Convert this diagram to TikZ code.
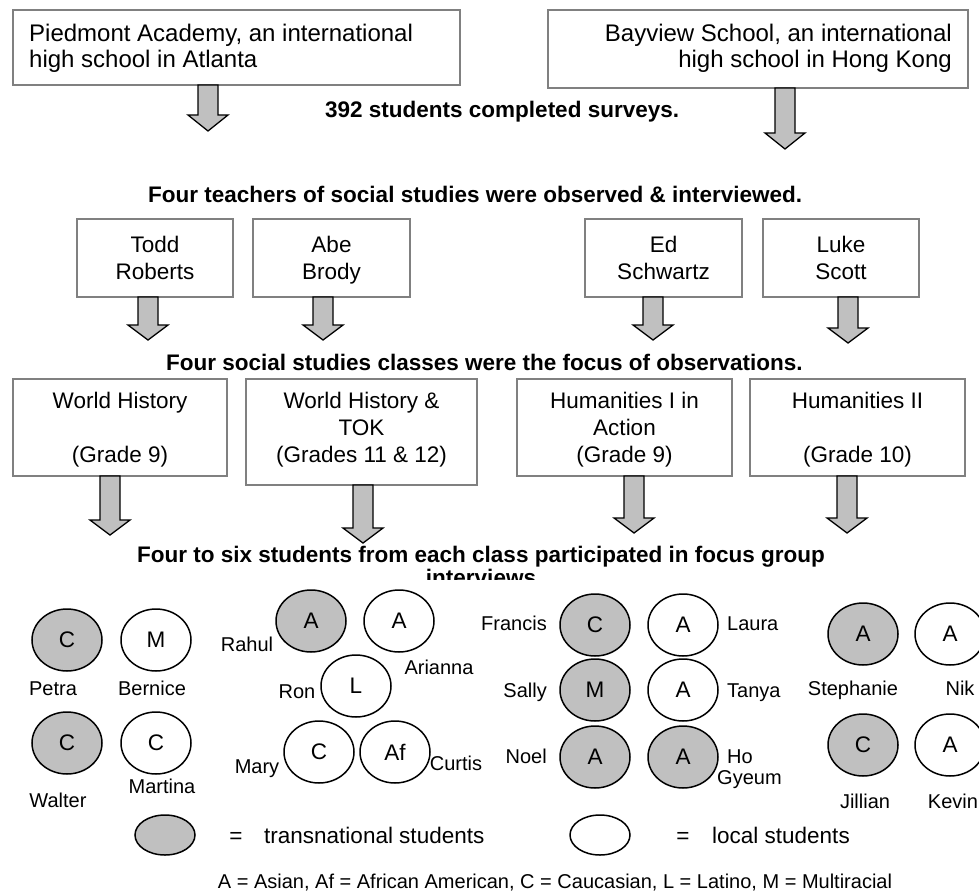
\documentclass[tikz,border=0pt]{standalone}
\usepackage{fontspec}
\setmainfont{Liberation Sans}
\definecolor{fillgray}{HTML}{C0C0C0}
\definecolor{boxgray}{HTML}{808080}
\newcommand{\topfont}{\fontsize{24}{28}\selectfont}
\newcommand{\boxfont}{\fontsize{22.5}{27}\selectfont}
\newcommand{\lblfont}{\fontsize{22.5}{27}\selectfont\bfseries}
\newcommand{\namefont}{\fontsize{20}{24}\selectfont}
\usetikzlibrary{shapes.geometric}
\tikzset{
  box/.style={draw=boxgray, line width=1.5pt, fill=white, rectangle, inner sep=0pt},
  btxt/.style={inner sep=0pt, anchor=base, font=\boxfont},
  ttxt/.style={inner sep=0pt, font=\topfont},
  lbl/.style={inner sep=0pt, anchor=base west, font=\lblfont},
  nm/.style={inner sep=0pt, anchor=base, font=\namefont},
  blkarrow/.style={draw=black, line width=1.3pt, fill=fillgray, line join=miter},
  stud/.style={ellipse, draw=black, line width=1.5pt, minimum width=70pt, minimum height=62pt, inner sep=0pt, font=\boxfont},
  trans/.style={stud, fill=fillgray},
  loc/.style={stud, fill=white},
}
% name, x, ytop, ybase, ytip
\newcommand{\blkarr}[5]{%
  \coordinate (#1) at (#2,#5);
  \draw[blkarrow] (#2-10,#3) -- (#2+10,#3) -- (#2+10,#4) -- (#2+20,#4) -- (#1) -- (#2-20,#4) -- (#2-10,#4) -- cycle;}
\begin{document}
\begin{tikzpicture}[x=1pt,y=-1pt]
\useasboundingbox (0,0) rectangle (979,896);
\fill[white] (0,0) rectangle (979,896);

% schools
\node[box, minimum width=447pt, minimum height=75pt] (piedmont) at (236.5,47.5) {};
\node[ttxt, anchor=base west] (p1) at (29,42) {Piedmont Academy, an international};
\node[ttxt, anchor=base west] (p2) at (29,68) {high school in Atlanta};
\node[box, minimum width=420pt, minimum height=78pt] (bayview) at (758,49) {};
\node[ttxt, anchor=base east] (b1) at (952,42) {Bayview School, an international};
\node[ttxt, anchor=base east] (b2) at (952,68) {high school in Hong Kong};

\blkarr{a1}{208}{85}{115}{131}
\blkarr{a2}{785}{88}{133}{149}

\node[lbl] (surveys) at (325,118) {392 students completed surveys.};
\node[lbl] (teachers) at (148,203) {Four teachers of social studies were observed \& interviewed.};

% teachers
\node[box, minimum width=156pt, minimum height=78pt] (todd) at (155,258) {};
\node[box, minimum width=157pt, minimum height=78pt] (abe) at (331.5,258) {};
\node[box, minimum width=157pt, minimum height=78pt] (ed) at (663.5,258) {};
\node[box, minimum width=156pt, minimum height=78pt] (luke) at (841,258) {};
\node[btxt] (t1) at (155,252) {Todd};
\node[btxt] (t2) at (155,279) {Roberts};
\node[btxt] (t3) at (331.5,252) {Abe};
\node[btxt] (t4) at (331.5,279) {Brody};
\node[btxt] (t5) at (663.5,252) {Ed};
\node[btxt] (t6) at (663.5,279) {Schwartz};
\node[btxt] (t7) at (841,252) {Luke};
\node[btxt] (t8) at (841,279) {Scott};

\blkarr{a3}{148}{297}{325}{340}
\blkarr{a4}{323}{297}{325}{340}
\blkarr{a5}{653}{297}{325}{340}
\blkarr{a6}{848}{297}{328}{343}

\node[lbl] (classes) at (166,370) {Four social studies classes were the focus of observations.};

% classes
\node[box, minimum width=214pt, minimum height=97pt] (wh) at (120,427.5) {};
\node[box, minimum width=231pt, minimum height=106pt] (tok) at (361.5,432) {};
\node[box, minimum width=215pt, minimum height=97pt] (hum1) at (624.5,427.5) {};
\node[box, minimum width=215pt, minimum height=97pt] (hum2) at (857.5,427.5) {};
\node[btxt] (c1) at (120,408) {World History};
\node[btxt] (c2) at (120,462) {(Grade 9)};
\node[btxt] (c3) at (361.5,408) {World History \&};
\node[btxt] (c4) at (361.5,435) {TOK};
\node[btxt] (c5) at (361.5,462) {(Grades 11 \& 12)};
\node[btxt] (c6) at (624.5,408) {Humanities I in};
\node[btxt] (c7) at (624.5,435) {Action};
\node[btxt] (c8) at (624.5,462) {(Grade 9)};
\node[btxt] (c9) at (857.5,408) {Humanities II};
\node[btxt] (c10) at (857.5,462) {(Grade 10)};

\blkarr{a7}{110}{476}{520}{535}
\blkarr{a8}{363}{485}{528}{543}
\blkarr{a9}{634}{476}{518}{533}
\blkarr{a10}{847}{476}{518}{533}

\node[lbl, anchor=base] (focus1) at (481,562) {Four to six students from each class participated in focus group};
\begin{scope}
  \clip (0,560) rectangle (979,579);
  \node[lbl, anchor=base] (focus2) at (481,585) {interviews};
\end{scope}

% group 1
\node[trans] (petra) at (67,640) {C};
\node[loc] (bernice) at (156,640) {M};
\node[trans] (walter) at (67,743) {C};
\node[loc] (martina) at (156,743) {C};
\node[nm] (npetra) at (53,695) {Petra};
\node[nm] (nbernice) at (152,695) {Bernice};
\node[nm] (nwalter) at (58,807) {Walter};
\node[nm] (nmartina) at (162,793) {Martina};

% group 2
\node[trans] (rahul) at (311,621) {A};
\node[loc] (arianna) at (399,621) {A};
\node[loc] (ron) at (356,686) {L};
\node[loc] (mary) at (319,752) {C};
\node[loc] (curtis) at (395,752) {Af};
\node[nm] (nrahul) at (247,651) {Rahul};
\node[nm] (narianna) at (439,674) {Arianna};
\node[nm] (nron) at (297,698) {Ron};
\node[nm] (nmary) at (257,773) {Mary};
\node[nm] (ncurtis) at (456,770) {Curtis};

% group 3
\node[trans] (francis) at (595,625) {C};
\node[loc] (laura) at (683,625) {A};
\node[trans] (sally) at (595,690) {M};
\node[loc] (tanya) at (683,690) {A};
\node[trans] (noel) at (595,757) {A};
\node[trans] (hogyeum) at (683,757) {A};
\node[nm, anchor=base east] (nfrancis) at (547,630) {Francis};
\node[nm, anchor=base west] (nlaura) at (727,630) {Laura};
\node[nm, anchor=base east] (nsally) at (547,697) {Sally};
\node[nm, anchor=base west] (ntanya) at (727,697) {Tanya};
\node[nm, anchor=base east] (nnoel) at (547,763) {Noel};
\node[nm, anchor=base west] (nho) at (727,763) {Ho};
\node[nm, anchor=base west] (ngyeum) at (717,784) {Gyeum};

% group 4
\node[trans] (stephanie) at (863,634) {A};
\node[loc] (nik) at (950,634) {A};
\node[trans] (jillian) at (863,745) {C};
\node[loc] (kevin) at (950,745) {A};
\node[nm] (nstephanie) at (853,695) {Stephanie};
\node[nm] (nnik) at (960,695) {Nik};
\node[nm] (njillian) at (865,808) {Jillian};
\node[nm] (nkevin) at (953,808) {Kevin};

% legend
\node[stud, fill=fillgray, minimum width=60pt, minimum height=40pt] (legt) at (165,835) {};
\node[btxt] (eq1) at (236,843) {=};
\node[btxt, anchor=base west] (legttxt) at (264,843) {transnational students};
\node[stud, fill=white, minimum width=60pt, minimum height=40pt] (legl) at (600,835) {};
\node[btxt] (eq2) at (683,843) {=};
\node[btxt, anchor=base west] (legltxt) at (712,843) {local students};

\node[nm] (key) at (555,888) {A = Asian, Af = African American, C = Caucasian, L = Latino, M = Multiracial};
\end{tikzpicture}
\end{document}
